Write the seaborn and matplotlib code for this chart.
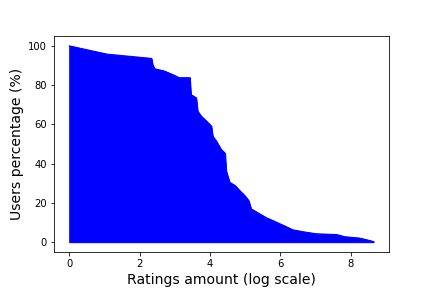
import matplotlib
matplotlib.use("Agg")
import matplotlib.pyplot as plt
import seaborn as sns
import pandas as pd

log_ratings = [0, 1.07, 2.34, 2.37, 2.43, 2.7, 3.0, 3.12, 3.43, 3.46, 3.61, 3.65, 3.75,
               3.9, 4.04, 4.08, 4.18, 4.32, 4.43, 4.46, 4.56, 4.71, 4.85, 4.99, 5.1,
               5.17, 5.36, 5.6, 5.84, 6.12, 6.36, 6.66, 7.02, 7.6, 7.83, 8.25, 8.49, 8.65]
users_pct = [100, 95.8, 93.6, 90.5, 88.3, 87.2, 84.9, 83.8, 83.8, 75.2, 73.5, 66.8, 64.2,
             61.7, 59.1, 54.0, 51.5, 47.2, 45.3, 36.4, 30.5, 28.9, 26.2, 23.7, 21.2,
             17.0, 15.0, 12.5, 10.6, 8.3, 6.3, 5.3, 4.3, 3.9, 2.8, 2.1, 1.1, 0.3]

df = pd.DataFrame({"x": log_ratings, "y": users_pct})

fig, ax = plt.subplots(figsize=(6, 4), dpi=72)
fig.subplots_adjust(left=0.125, right=0.9, top=0.875, bottom=0.125)
sns.lineplot(data=df, x="x", y="y", color="blue", linewidth=1, ax=ax)
ax.fill_between(df["x"], df["y"], 0, color="blue")
ax.set_xlabel("Ratings amount (log scale)", fontsize=14)
ax.set_ylabel("Users percentage (%)", fontsize=14)
fig.savefig("out.png", dpi=72)
